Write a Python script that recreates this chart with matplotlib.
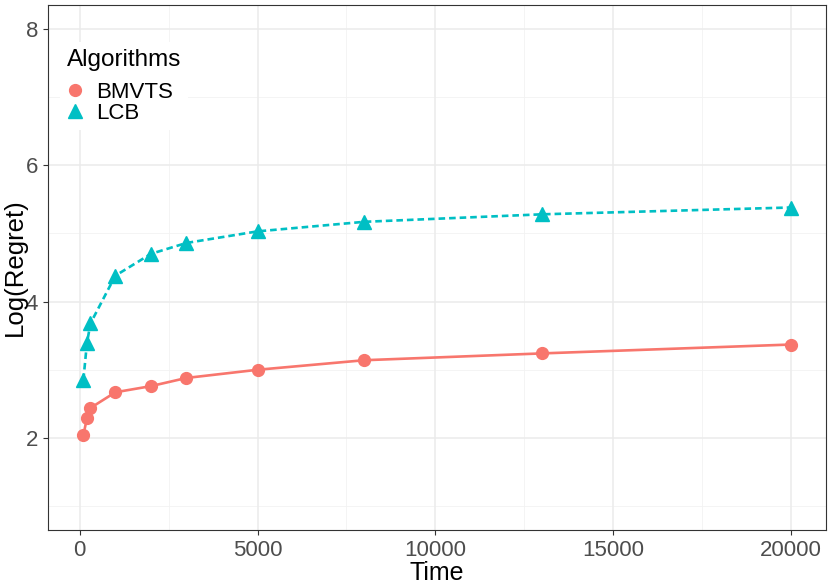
import matplotlib
matplotlib.use('Agg')
import matplotlib.pyplot as plt
from matplotlib.lines import Line2D

plt.rcParams['font.family'] = ['Liberation Sans', 'DejaVu Sans']

# Data
time = [100, 200, 300, 1000, 2000, 3000, 5000, 8000, 13000, 20000]
bmvts = [2.04, 2.29, 2.44, 2.67, 2.76, 2.88, 3.00, 3.14, 3.24, 3.37]
lcb = [2.85, 3.39, 3.68, 4.38, 4.70, 4.86, 5.03, 5.17, 5.28, 5.38]

col_b = '#F8766D'
col_l = '#00BFC4'

fig = plt.figure(figsize=(8.3, 5.88), dpi=100)
ax = fig.add_axes([48/830, 1-530/588, 778/830, 525/588])

# grid (theme_bw style)
for v in [1, 3, 5, 7]:
    ax.axhline(v, color='#F2F2F2', lw=0.6, zorder=0)
for v in [2500, 7500, 12500, 17500]:
    ax.axvline(v, color='#F2F2F2', lw=0.6, zorder=0)
for v in [2, 4, 6, 8]:
    ax.axhline(v, color='#EBEBEB', lw=1.1, zorder=0)
for v in [0, 5000, 10000, 15000, 20000]:
    ax.axvline(v, color='#EBEBEB', lw=1.1, zorder=0)

ax.plot(time, bmvts, color=col_b, lw=1.9, marker='o', markersize=8.5, zorder=3)
ax.plot(time, lcb, color=col_l, lw=1.9, ls=(0, (2.5, 1.5)), marker='^', markersize=10, zorder=3)

ax.set_xlim(-895, 20995)
ax.set_ylim(0.65, 8.35)
ax.set_xticks([0, 5000, 10000, 15000, 20000])
ax.set_yticks([2, 4, 6, 8])
ax.tick_params(labelsize=16, colors='#333333', labelcolor='#4D4D4D', length=3.5, width=0.8)
for s in ax.spines.values():
    s.set_color('#333333')
    s.set_linewidth(0.8)

ax.set_xlabel('Time', fontsize=18, labelpad=0)
ax.set_ylabel('Log(Regret)', fontsize=18.5)
ax.yaxis.set_label_coords(-21/778, 0.5)

handles = [Line2D([], [], color=col_b, marker='o', ls='none', markersize=8.5),
           Line2D([], [], color=col_l, marker='^', ls='none', markersize=10)]
leg = ax.legend(handles, ['BMVTS', 'LCB'], title='Algorithms', loc='upper left',
                bbox_to_anchor=(0.001, 0.951), frameon=True, fontsize=16, title_fontsize=17.5,
                handlelength=0.8, handletextpad=0.55, labelspacing=0.0, borderpad=0.3)
leg.get_frame().set_edgecolor('none')
leg.get_frame().set_facecolor('white')
leg.get_frame().set_alpha(1)
leg._legend_box.align = 'left'
leg._legend_box.sep = 8

fig.savefig('out.png', dpi=100)
